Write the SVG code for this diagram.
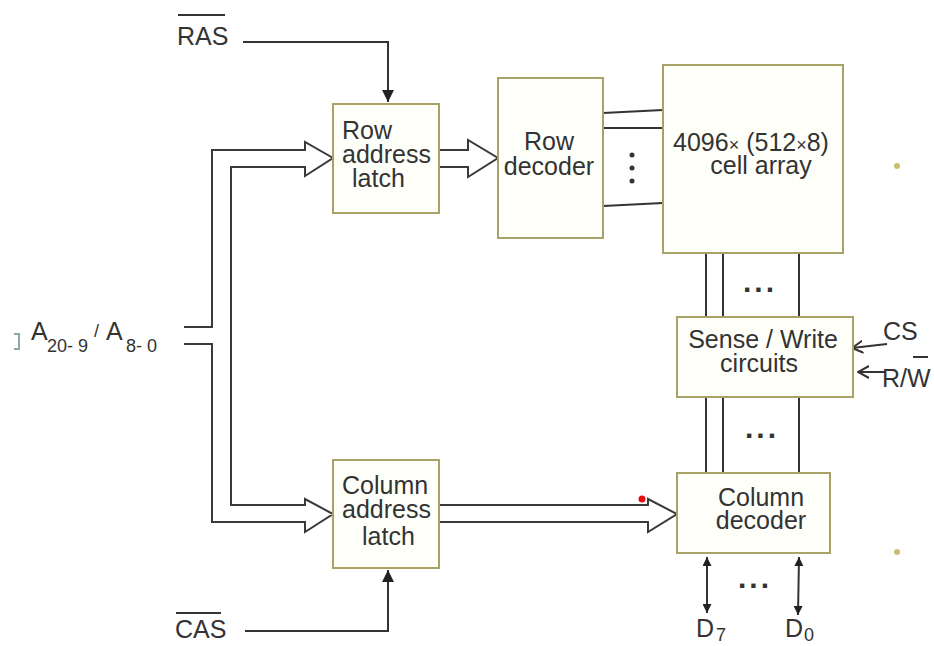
<svg xmlns="http://www.w3.org/2000/svg" width="934" height="646" viewBox="0 0 934 646">
<style>
  .box { fill: #fffffa; stroke: #a8a268; stroke-width: 2; }
  .lbl { font-family: "Liberation Sans", Arial, sans-serif; font-size: 25px; fill: #333; }
  .sub { font-family: "Liberation Sans", Arial, sans-serif; font-size: 18px; fill: #333; }
  .ln { fill: none; stroke: #333; stroke-width: 2; }
  .bus { fill: none; stroke: #3a3a3a; stroke-width: 2; stroke-linejoin: miter; }
  .dots { font-family: "Liberation Sans", Arial, sans-serif; font-size: 30px; font-weight: bold; fill: #333; letter-spacing: 3px; }
</style>
<defs>
  <marker id="tri2" viewBox="0 0 10 10" refX="10" refY="5" markerWidth="14" markerHeight="12" markerUnits="userSpaceOnUse" orient="auto">
    <path d="M0,0 L10,5 L0,10 Z" fill="#222"/>
  </marker>
  <marker id="open" viewBox="0 0 12 12" refX="11" refY="6" markerWidth="12" markerHeight="14" markerUnits="userSpaceOnUse" orient="auto">
    <path d="M0,0 L11,6 L0,12" fill="none" stroke="#333" stroke-width="2"/>
  </marker>
  <marker id="dbl" viewBox="0 0 10 10" refX="10" refY="5" markerWidth="13" markerHeight="9" markerUnits="userSpaceOnUse" orient="auto-start-reverse">
    <path d="M0,0 L10,5 L0,10 Z" fill="#222"/>
  </marker>
</defs>
<rect width="934" height="646" fill="#ffffff"/>

<g id="connectors">
  <path class="ln" d="M243,42 H388 V102" marker-end="url(#tri2)"/>
  <path class="ln" d="M245,631 H388 V570" marker-end="url(#tri2)"/>
  <path class="bus" d="M184,327 H212 V150 H305 V142 L333,158 L305,176 V167 H231 V505 H305 V499 L333,514 L305,532 V522 H212 V344 H184"/>
  <path class="bus" d="M439,150 H468 V140 L498,158 L468,177 V167 H439"/>
  <path class="bus" d="M439,505 H648 V499 L677,514 L648,532 V522 H439"/>
  <path class="ln" d="M603,113 L663,110 M603,128 L663,128 M603,206 L663,203"/>
  <circle cx="632" cy="155" r="2.5" fill="#333"/>
  <circle cx="632" cy="168" r="2.5" fill="#333"/>
  <circle cx="632" cy="181" r="2.5" fill="#333"/>
  <path class="ln" d="M706,253 V317 M723,253 V317 M799,253 V317"/>
  <path class="ln" d="M706,397 V473 M723,397 V473 M799,397 V473"/>
  <path class="ln" d="M887,344 L852,348" marker-end="url(#open)"/>
  <path class="ln" d="M885,372 L858,372" marker-end="url(#open)"/>
  <path class="ln" d="M707,557 V613" marker-start="url(#dbl)" marker-end="url(#dbl)"/>
  <path class="ln" d="M799,557 L798,615" marker-start="url(#dbl)" marker-end="url(#dbl)"/>
</g>

<g id="ras">
  <text class="lbl" x="177" y="45">RAS</text>
  <line x1="178" y1="15" x2="225" y2="15" stroke="#333" stroke-width="2"/>
</g>
<g id="cas">
  <text class="lbl" x="175" y="638">CAS</text>
  <line x1="176" y1="613" x2="221" y2="613" stroke="#333" stroke-width="2"/>
</g>
<g id="addr">
  <path d="M14,334 H19 V349 H14" fill="none" stroke="#8aa" stroke-width="2"/>
  <text class="lbl" x="31" y="340" font-size="24">A</text>
  <text class="sub" x="47" y="352">20- 9</text>
  <text class="sub" x="94" y="337">/</text>
  <text class="lbl" x="106" y="340" font-size="24">A</text>
  <text class="sub" x="126" y="352">8- 0</text>
</g>

<g id="row-latch">
  <rect class="box" x="333" y="104" width="106" height="109"/>
  <text class="lbl" x="342" y="139">Row</text>
  <text class="lbl" x="342" y="163">address</text>
  <text class="lbl" x="352" y="187">latch</text>
</g>
<g id="col-latch">
  <rect class="box" x="333" y="460" width="106" height="108"/>
  <text class="lbl" x="342" y="494">Column</text>
  <text class="lbl" x="342" y="518">address</text>
  <text class="lbl" x="362" y="545">latch</text>
</g>
<g id="row-decoder">
  <rect class="box" x="498" y="78" width="105" height="160"/>
  <text class="lbl" x="549" y="150" text-anchor="middle">Row</text>
  <text class="lbl" x="549" y="175" text-anchor="middle">decoder</text>
</g>
<g id="cell-array">
  <rect class="box" x="663" y="65" width="180" height="188"/>
  <text class="lbl" x="751" y="151" text-anchor="middle" font-size="24">4096<tspan font-size="18">×</tspan> (512<tspan font-size="18">×</tspan>8)</text>
  <text class="lbl" x="761" y="174" text-anchor="middle" font-size="24">cell array</text>
</g>
<text class="dots" x="760" y="292" text-anchor="middle">...</text>
<g id="sense-write">
  <rect class="box" x="677" y="317" width="176" height="80"/>
  <text class="lbl" x="763" y="348" text-anchor="middle">Sense / Write</text>
  <text class="lbl" x="759" y="372" text-anchor="middle">circuits</text>
</g>
<text class="dots" x="762" y="438" text-anchor="middle">...</text>
<g id="col-decoder">
  <rect class="box" x="677" y="473" width="153" height="80"/>
  <text class="lbl" x="761" y="506" text-anchor="middle" font-size="24">Column</text>
  <text class="lbl" x="761" y="529" text-anchor="middle" font-size="24">decoder</text>
</g>
<text class="dots" x="755" y="588" text-anchor="middle">...</text>
<g id="cs">
  <text class="lbl" x="883" y="340">CS</text>
</g>
<g id="rw">
  <text class="lbl" x="882" y="387">R/W</text>
  <line x1="913" y1="357" x2="928" y2="357" stroke="#333" stroke-width="2"/>
</g>
<g id="d7">
  <text class="lbl" x="696" y="637">D</text>
  <text class="sub" x="716" y="641" font-size="15">7</text>
</g>
<g id="d0">
  <text class="lbl" x="785" y="637">D</text>
  <text class="sub" x="804" y="641" font-size="15">0</text>
</g>
<circle cx="642" cy="499" r="3.5" fill="#e01010"/>
<circle cx="897" cy="166" r="3" fill="#c8c070"/>
<circle cx="897" cy="552" r="3" fill="#c8c070"/>
</svg>
